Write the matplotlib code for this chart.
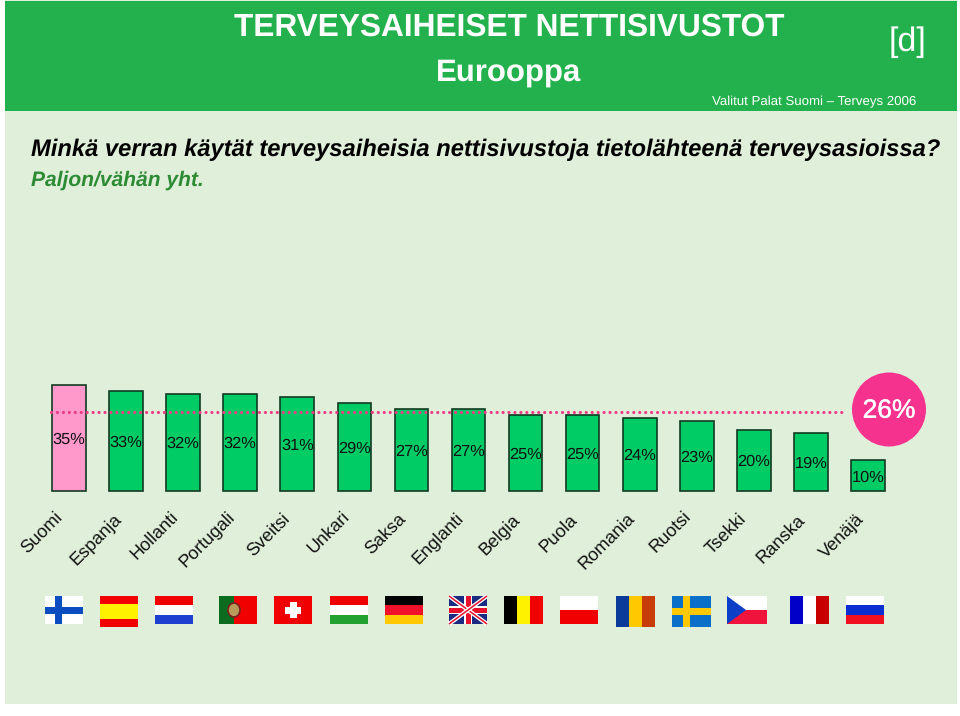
import matplotlib
matplotlib.use("Agg")
import matplotlib.pyplot as plt
import matplotlib.patheffects as pe
from matplotlib.patches import Rectangle, Ellipse, Polygon

W, H = 960, 716
countries = ["Suomi", "Espanja", "Hollanti", "Portugali", "Sveitsi", "Unkari", "Saksa", "Englanti",
             "Belgia", "Puola", "Romania", "Ruotsi", "Tsekki", "Ranska", "Venäjä"]
values = [35, 33, 32, 32, 31, 29, 27, 27, 25, 25, 24, 23, 20, 19, 10]
average = 26
title_main = "TERVEYSAIHEISET NETTISIVUSTOT"
title_sub = "Eurooppa"
source = "Valitut Palat Suomi – Terveys 2006"
question = "Minkä verran käytät terveysaiheisia nettisivustoja tietolähteenä terveysasioissa?"
subq = "Paljon/vähän yht."

plt.rcParams["font.family"] = ["Liberation Sans", "DejaVu Sans"]
plt.rcParams["text.hinting"] = "no_hinting"
fig = plt.figure(figsize=(W / 100, H / 100), dpi=100, facecolor="white")

# pixel overlay
px = fig.add_axes([0, 0, 1, 1])
px.set_xlim(0, W); px.set_ylim(H, 0); px.axis("off")
px.add_patch(Rectangle((5, 0), 952, 704, fc="#E0EFD9", ec="none"))
px.add_patch(Rectangle((5, 1), 952, 110, fc="#22B14C", ec="none"))
px.text(509, 27, title_main, color="white", fontsize=22.8, fontweight="bold", ha="center", va="center")
px.text(509, 73, title_sub, color="white", fontsize=22.4, fontweight="bold", ha="center", va="center")
px.text(907, 42, "[d]", color="white", fontsize=24.5, ha="center", va="center")
px.text(916, 102, source, color="white", fontsize=9.5, ha="right", va="center")
px.text(31, 150, question, color="black", fontsize=17.1, fontweight="bold", style="italic", ha="left", va="center")
px.text(31, 180, subq, color="#2E8B35", fontsize=15.1, fontweight="bold", style="italic", ha="left", va="center")

# chart axes: data scale, 1 unit in x = one country, y = percent
ax = fig.add_axes([0, 0, 1, 1], facecolor="none")
x0, dx, y0, dy = 69, 57.07, 490.5, 3.01
ax.set_xlim((0 - x0) / dx, (W - x0) / dx)
ax.set_ylim((y0 - H) / dy, y0 / dy)
ax.axis("off")
xs = list(range(len(values)))
colors = ["#FF99CC"] + ["#00CC66"] * (len(values) - 1)
ax.bar(xs, values, width=0.59, color=colors, edgecolor="#123A22", linewidth=1.2, zorder=2)
ax.plot([-0.315, 13.6], [average, average], color="#EE3B85", lw=2.3, ls=(0, (0.01, 1.85)),
        dash_capstyle="round", zorder=3)
for x, v in zip(xs, values):
    ax.text(x, v * 0.5 - 0.6, f"{v}%", ha="center", va="center", fontsize=11.8, color="#111111", zorder=4)

# average badge
px2 = fig.add_axes([0, 0, 1, 1], facecolor="none")
px2.set_xlim(0, W); px2.set_ylim(H, 0); px2.axis("off")
px2.add_patch(Ellipse((889, 409.5), 74, 74, fc="#F5338F", ec="none"))
px2.text(889, 411, f"{average}%", color="white", fontsize=19, ha="center", va="center",
         path_effects=[pe.withStroke(linewidth=0.3, foreground="white")])

# rotated country labels (right end anchored)
label_px = [(60, 515), (119, 516), (176, 514), (232, 514), (287, 516), (347, 514), (403, 516), (461, 515),
            (517, 517), (575, 517), (632, 516), (688, 514), (744, 516), (802, 517), (861, 516)]
for name, (x, y) in zip(countries, label_px):
    px2.text(x, y, name, rotation=45, rotation_mode="anchor", ha="right", va="center", fontsize=13, color="#111111")

# flags
def stripes_h(x, y, w, h, cols, fr=None):
    fr = fr or [1 / len(cols)] * len(cols)
    cy = y
    for c, f in zip(cols, fr):
        px2.add_patch(Rectangle((x, cy), w, h * f, fc=c, ec="none")); cy += h * f
def stripes_v(x, y, w, h, cols, fr=None):
    fr = fr or [1 / len(cols)] * len(cols)
    cx = x
    for c, f in zip(cols, fr):
        px2.add_patch(Rectangle((cx, y), w * f, h, fc=c, ec="none")); cx += w * f

# Finland
stripes_h(45, 596, 38, 28, ["white"])
px2.add_patch(Rectangle((55, 596), 6.5, 28, fc="#0B4CC0", ec="none"))
px2.add_patch(Rectangle((45, 606.5), 38, 7, fc="#0B4CC0", ec="none"))
# Spain
stripes_h(100, 596, 38, 31, ["#F00000", "#FFF200", "#F00000"], [.25, .5, .25])
# Netherlands
stripes_h(155, 596, 38, 28, ["#F00000", "white", "#1F3FD0"])
# Portugal
stripes_v(219, 596, 38, 28, ["#0B6B1E", "#F00000"], [.4, .6])
px2.add_patch(Ellipse((234, 610), 12, 14, fc="#B89A5A", ec="#7A1F1F", lw=1.2))
# Switzerland
stripes_h(274, 596, 38, 28, ["#F00000"])
px2.add_patch(Rectangle((289.5, 602), 7, 16, fc="white", ec="none"))
px2.add_patch(Rectangle((285, 606.5), 16, 7, fc="white", ec="none"))
# Hungary
stripes_h(330, 596, 38, 28, ["#F00000", "white", "#22A030"])
# Germany
stripes_h(385, 596, 38, 28, ["black", "#F0102A", "#FFC800"])
# UK
ukx, uky, ukw, ukh = 449, 596, 38, 28
stripes_h(ukx, uky, ukw, ukh, ["#1A2A80"])
for pts in ([(ukx, uky), (ukx + ukw, uky + ukh)], [(ukx, uky + ukh), (ukx + ukw, uky)]):
    px2.plot(*zip(*pts), color="white", lw=3, solid_capstyle="butt")
    px2.plot(*zip(*pts), color="#E8102A", lw=1.1, solid_capstyle="butt")
px2.add_patch(Rectangle((ukx + 15, uky), 8, ukh, fc="white", ec="none"))
px2.add_patch(Rectangle((ukx, uky + 10), ukw, 8, fc="white", ec="none"))
px2.add_patch(Rectangle((ukx + 16.5, uky), 5, ukh, fc="#E8102A", ec="none"))
px2.add_patch(Rectangle((ukx, uky + 11.5), ukw, 5, fc="#E8102A", ec="none"))
# Belgium
stripes_v(504, 596, 38.5, 28, ["black", "#FFF200", "#F00000"])
# Poland
stripes_h(560, 596, 38, 28, ["white", "#F00000"])
# Romania
stripes_v(616, 596, 39, 31, ["#0A3A9A", "#FFC800", "#C83C0A"])
# Sweden
stripes_h(671.5, 596, 39, 31, ["#0A6FC8"])
px2.add_patch(Rectangle((683, 596), 6.5, 31, fc="#FFC800", ec="none"))
px2.add_patch(Rectangle((671.5, 608), 39, 7, fc="#FFC800", ec="none"))
# Czech
stripes_h(727, 596, 40, 28, ["white", "#F0143C"])
px2.add_patch(Polygon([(727, 596), (727, 624), (746, 610)], fc="#0B3FC8", ec="none"))
# France
stripes_v(790, 596, 38.5, 28, ["#0000C8", "white", "#C80000"])
# Russia
stripes_h(845.5, 596, 38, 28, ["white", "#0A2FD0", "#F01020"])

fig.savefig("out.png", dpi=100)
